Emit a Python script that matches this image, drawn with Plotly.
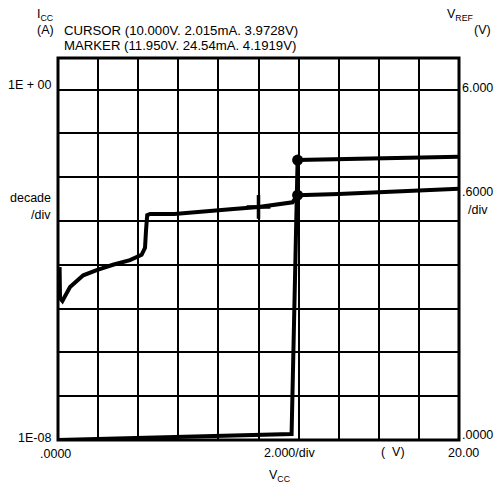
import plotly.graph_objects as go

# ---- data ----
icc_vcc = [0.0, 4.0, 8.0, 11.65, 11.95, 14.0, 16.0, 18.0, 20.0]
icc_amp = [1.0e-8, 1.1e-8, 1.22e-8, 1.37e-8, 0.02454, 0.0255, 0.0268, 0.0282, 0.0292]

vref_vcc = [0.08, 0.1, 0.22, 0.6, 1.26, 1.93, 2.74, 3.59, 4.17, 4.34, 4.39, 4.45,
            4.59, 5.8, 8.6, 10.0, 11.7, 11.95, 14.0, 16.2, 18.0, 20.0]
vref_volt = [2.96, 2.43, 2.38, 2.62, 2.82, 2.91, 3.0, 3.08, 3.17, 3.29, 3.59, 3.85,
             3.87, 3.87, 3.95, 3.99, 4.07, 4.19, 4.21, 4.24, 4.27, 4.30]

cursor_vcc = [10.0]
cursor_vref = [3.99]
marker_vcc = [11.95]
marker_icc = [0.02454]
marker_vref = [4.1919]

cursor_text = "CURSOR (10.000V. 2.015mA. 3.9728V)"
marker_text = "MARKER (11.950V. 24.54mA. 4.1919V)"

W, H = 497, 485
L, R, T, B = 58, 38, 58, 45
PW, PH = W - L - R, H - T - B


def px(xp):
    return (xp - L) / PW


def py(yp):
    return (H - B - yp) / PH


FONT = "Liberation Sans, Arial, Helvetica, sans-serif"
FS = 12.5

fig = go.Figure()
fig.add_trace(go.Scatter(x=icc_vcc, y=icc_amp, mode="lines",
                         line=dict(color="black", width=4), yaxis="y", showlegend=False))
fig.add_trace(go.Scatter(x=vref_vcc, y=vref_volt, mode="lines",
                         line=dict(color="black", width=4), yaxis="y2", showlegend=False))
fig.add_trace(go.Scatter(x=cursor_vcc, y=cursor_vref, mode="markers", yaxis="y2",
                         marker=dict(symbol="cross-thin", size=17, line=dict(color="black", width=3.5)),
                         showlegend=False))
fig.add_trace(go.Scatter(x=marker_vcc, y=marker_icc, mode="markers", yaxis="y",
                         marker=dict(symbol="circle", size=11, color="black"), showlegend=False))
fig.add_trace(go.Scatter(x=marker_vcc, y=marker_vref, mode="markers", yaxis="y2",
                         marker=dict(symbol="circle", size=11, color="black"), showlegend=False))

texts = [
    ("I<sub>CC</sub>", 35, 15, "left", FS),
    ("(A)", 35, 30, "left", FS),
    (cursor_text, 62, 30, "left", 13.2),
    (marker_text, 62, 45, "left", 13.2),
    ("V<sub>REF</sub>", 445, 15, "left", FS),
    ("(V)", 472, 30, "left", FS),
    ("1E + 00", 53, 85, "right", FS),
    ("decade", 53, 198, "right", FS),
    ("/div", 53, 215, "right", FS),
    ("1E-08", 53, 438, "right", FS),
    ("6.000", 460, 88, "left", FS),
    (".6000", 460, 192, "left", FS),
    ("/div", 466, 210, "left", FS),
    (".0000", 460, 435, "left", FS),
    (".0000", 38, 454, "left", FS),
    ("2.000/div", 262, 453, "left", FS),
    ("(  V)", 379, 452, "left", FS),
    ("20.00", 446, 453, "left", FS),
    ("V<sub>CC</sub>", 267, 476, "left", FS),
]
annotations = []
for t, xx, yy, anc, fs in texts:
    annotations.append(dict(text=t, x=px(xx), y=py(yy), xref="paper", yref="paper",
                            xanchor=anc, yanchor="middle", showarrow=False,
                            font=dict(family=FONT, size=fs, color="black")))

fig.update_layout(
    width=W, height=H,
    margin=dict(l=L, r=R, t=T, b=B, pad=0),
    paper_bgcolor="white", plot_bgcolor="white",
    font=dict(family=FONT, size=FS, color="black"),
    xaxis=dict(range=[0, 20], dtick=2, tick0=0, showgrid=True, gridcolor="black",
               gridwidth=1.5, showticklabels=False, zeroline=False, ticks="",
               showline=False, fixedrange=True),
    yaxis=dict(type="log", range=[-8, 0.72], dtick=1, showgrid=True, gridcolor="black",
               gridwidth=1.5, showticklabels=False, zeroline=False, ticks="",
               showline=False, fixedrange=True),
    yaxis2=dict(range=[0, 6.54], overlaying="y", side="right", showgrid=False,
                showticklabels=False, zeroline=False, ticks="", showline=False,
                fixedrange=True),
    shapes=[dict(type="rect", xref="paper", yref="paper", x0=0, x1=1, y0=0, y1=1,
                 line=dict(color="black", width=3), layer="above")],
    annotations=annotations,
    showlegend=False,
)

fig.write_html("out.html", config={"displayModeBar": False},
               post_script="document.body.style.margin='0px';document.body.style.overflow='hidden';")
